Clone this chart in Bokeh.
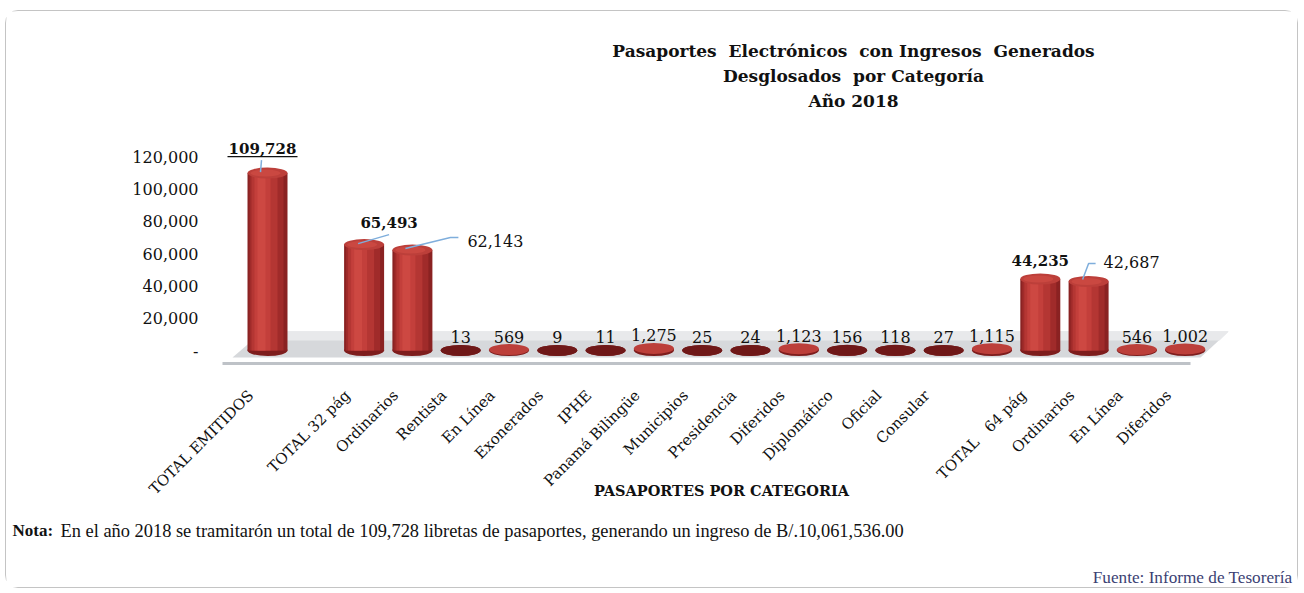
import math
import numpy as np
from bokeh.plotting import figure
from bokeh.models import Range1d, FixedTicker, CustomJSTickFormatter, Label, ColumnDataSource
from bokeh.core.properties import value
from bokeh.embed import file_html
from bokeh.resources import INLINE

# ---------------- data ----------------
categories = ["TOTAL EMITIDOS", "", "TOTAL 32 pág", "Ordinarios", "Rentista", "En Línea",
              "Exonerados", "IPHE", "Panamá Bilingüe", "Municipios", "Presidencia",
              "Diferidos", "Diplomático", "Oficial", "Consular", "", "TOTAL\u00a0\u00a0 64 pág",
              "Ordinarios", "En Línea", "Diferidos"]
passports = [109728, None, 65493, 62143, 13, 569, 9, 11, 1275, 25, 24, 1123, 156, 118, 27,
             1115, 44235, 42687, 546, 1002]
y_ticks = [0, 20000, 40000, 60000, 80000, 100000, 120000]
title_lines = ["Pasaportes\u00a0 Electrónicos\u00a0 con Ingresos\u00a0 Generados",
               "Desglosados\u00a0 por Categoría",
               "Año 2018"]
x_title = "PASAPORTES POR CATEGORIA"
note_label = "Nota:"
note_text = ("En el año 2018 se tramitarón un total de 109,728 libretas de pasaportes, "
             "generando un ingreso de B/.10,061,536.00")
source_text = "Fuente: Informe de Tesorería"

# ---------------- geometry ----------------
W, H = 1293, 578
AXIS_X = 200          # screen x of the value axis
SLOT_PX = 48.3
Y_PX = 194 / 120000.0
ZERO_Y = 339
X0_PX = 261           # screen x of first slot

x_start = -X0_PX / SLOT_PX
x_end = x_start + W / SLOT_PX
y_end = ZERO_Y / Y_PX
y_start = -(H - ZERO_Y) / Y_PX


def dx(px):
    return px / SLOT_PX


def dy(px):
    return px / Y_PX


SERIF = "DejaVu Serif"

p = figure(width=W, height=H, x_range=Range1d(x_start, x_end), y_range=Range1d(y_start, y_end),
           x_axis_location=None, output_backend="svg", toolbar_location=None,
           min_border_left=0, min_border_right=0, min_border_top=0, min_border_bottom=0,
           styles={"border": "1.5px solid #c4c4c4", "border-radius": "13px",
                   "margin-left": "5px", "margin-top": "10px"})
p.outline_line_color = None
p.xgrid.visible = False
p.ygrid.visible = False
p.background_fill_color = "white"
p.border_fill_color = "white"

ax = p.yaxis[0]
ax.fixed_location = x_start + AXIS_X / SLOT_PX
ax.ticker = FixedTicker(ticks=y_ticks)
ax.formatter = CustomJSTickFormatter(code="return tick == 0 ? '-' : tick.toLocaleString('en-US');")
ax.axis_line_color = None
ax.major_tick_line_color = None
ax.minor_tick_line_color = None
ax.major_tick_out = 0
ax.major_tick_in = 0
ax.minor_tick_out = 0
ax.major_label_standoff = 8
ax.major_label_text_font = SERIF
ax.major_label_text_font_size = "16px"
ax.major_label_text_color = "#111111"

# ---------------- floor ----------------
p.patch([dx(-35), dx(-5), dx(961), dx(933)], [dy(-7), dy(19), dy(19), dy(-7)],
        fill_color="#D6D8DB", line_color=None)
p.patch([dx(-14), dx(-5), dx(961), dx(952)], [dy(10), dy(19), dy(19), dy(10)],
        fill_color="#E8E9EB", line_color=None)
p.segment(x0=[dx(-45)], y0=[dy(-13)], x1=[dx(923)], y1=[dy(-13)],
          line_width=3, line_color="#BEC2C7")

# ---------------- cylinders ----------------
slots = [i for i, v in enumerate(passports) if v is not None]
vals = [passports[i] for i in slots]
xs = np.array(slots, dtype=float)
src = ColumnDataSource(dict(x=xs, top=vals, zero=[0] * len(vals),
                            topcol=["#6F1818" if v < 300 else "#BC3F3A" for v in vals]))

BAR_W = 40
p.ellipse(x="x", y="zero", width=dx(BAR_W), height=11, height_units="screen",
          fill_color="#7E1D1D", line_color=None, source=src)
for w, off, c in [(40, 0, "#8A2222"), (34, -1, "#A02B2A"), (26, -3, "#B43633"),
                  (16, -5, "#C33F3B"), (8, -6, "#CD4842")]:
    p.vbar(x=xs + dx(off), width=dx(w), top=vals, bottom=0, fill_color=c, line_color=None)
p.ellipse(x="x", y="top", width=dx(BAR_W), height=11, height_units="screen",
          fill_color="topcol", line_color=None, source=src)
tall = [i for i, v in zip(slots, vals) if v > 10000]
tall_v = [passports[i] for i in tall]
p.ellipse(x=np.array(tall, dtype=float) - dx(2), y=tall_v, width=dx(30), height=7,
          height_units="screen", fill_color="#CA4841", line_color=None)

# ---------------- value labels ----------------
special = {0, 2, 3, 16, 17}
plain = [i for i in slots if i not in special]
p.text(x=[float(i) for i in plain], y=[passports[i] for i in plain],
       text=[f"{passports[i]:,}" for i in plain], y_offset=-13,
       text_align="center", text_baseline="middle", text_font=value(SERIF),
       text_font_size="16px", text_color="#111111")

LEAD = "#7FAEDC"
# 109,728 (bold, underlined)
v = passports[0]
p.segment(x0=[0 + dx(-7)], y0=[v + dy(1)], x1=[0 + dx(-6)], y1=[v + dy(13)],
          line_color=LEAD, line_width=1.5)
p.text(x=[0.0], y=[v], text=[f"{v:,}"], x_offset=-5, y_offset=-25, text_align="center",
       text_baseline="middle", text_font=value(SERIF), text_font_style="bold",
       text_font_size="15px", text_color="#111111")
p.segment(x0=[dx(-40)], y0=[v + dy(16.5)], x1=[dx(30)], y1=[v + dy(16.5)],
          line_color="#111111", line_width=1.3)
# 65,493 (bold)
v = passports[2]
p.segment(x0=[2 + dx(-6)], y0=[v + dy(1)], x1=[2 + dx(25)], y1=[v + dy(10)],
          line_color=LEAD, line_width=1.5)
p.text(x=[2.0], y=[v], text=[f"{v:,}"], x_offset=25, y_offset=-22, text_align="center",
       text_baseline="middle", text_font=value(SERIF), text_font_style="bold",
       text_font_size="15px", text_color="#111111")
# 62,143
v = passports[3]
p.line(x=[3 + dx(-7), 3 + dx(38), 3 + dx(46)], y=[v + dy(1.5), v + dy(12.5), v + dy(12.5)],
       line_color=LEAD, line_width=1.5)
p.text(x=[3.0], y=[v], text=[f"{v:,}"], x_offset=55, y_offset=-9.5, text_align="left",
       text_baseline="middle", text_font=value(SERIF), text_font_size="16px",
       text_color="#111111")
# 44,235 (bold)
v = passports[16]
p.text(x=[16.0], y=[v], text=[f"{v:,}"], x_offset=0, y_offset=-18.5, text_align="center",
       text_baseline="middle", text_font=value(SERIF), text_font_style="bold",
       text_font_size="15px", text_color="#111111")
# 42,687
v = passports[17]
p.line(x=[17 + dx(-6), 17 + dx(0), 17 + dx(7)], y=[v + dy(2), v + dy(18), v + dy(18)],
       line_color=LEAD, line_width=1.5)
p.text(x=[17.0], y=[v], text=[f"{v:,}"], x_offset=15, y_offset=-19, text_align="left",
       text_baseline="middle", text_font=value(SERIF), text_font_size="16px",
       text_color="#111111")

# ---------------- category labels ----------------
lab_idx = [i for i, c in enumerate(categories) if c]
p.text(x=[float(i) for i in lab_idx], y=[0] * len(lab_idx),
       text=[categories[i] for i in lab_idx], angle=math.pi / 4,
       x_offset=-23, y_offset=36, text_align="right", text_baseline="top",
       text_font=value(SERIF), text_font_size="15px", text_color="#111111")

# ---------------- texts (screen units from frame bottom-left = canvas bottom-left) ----------------
for k, line in enumerate(title_lines):
    p.add_layout(Label(x=847, y=H - 39 - 25 * k, x_units="screen", y_units="screen", text=line,
                       text_align="center", text_baseline="middle", text_font=SERIF,
                       text_font_style="bold", text_font_size="17px", text_color="#111111"))
p.add_layout(Label(x=715, y=H - 479, x_units="screen", y_units="screen", text=x_title,
                   text_align="center", text_baseline="middle", text_font=SERIF,
                   text_font_style="bold", text_font_size="14.5px", text_color="#111111"))
p.add_layout(Label(x=6, y=H - 519, x_units="screen", y_units="screen", text=note_label,
                   text_align="left", text_baseline="middle", text_font="Liberation Serif",
                   text_font_style="bold", text_font_size="17px", text_color="#111111"))
p.add_layout(Label(x=54, y=H - 519, x_units="screen", y_units="screen", text=note_text,
                   text_align="left", text_baseline="middle", text_font="Liberation Serif",
                   text_font_size="18.4px", text_color="#111111"))
p.add_layout(Label(x=1286, y=H - 566, x_units="screen", y_units="screen", text=source_text,
                   text_align="right", text_baseline="middle", text_font="Liberation Serif",
                   text_font_size="17.2px", text_color="#3B3F73"))

open("out.html", "w").write(file_html(p, INLINE))
